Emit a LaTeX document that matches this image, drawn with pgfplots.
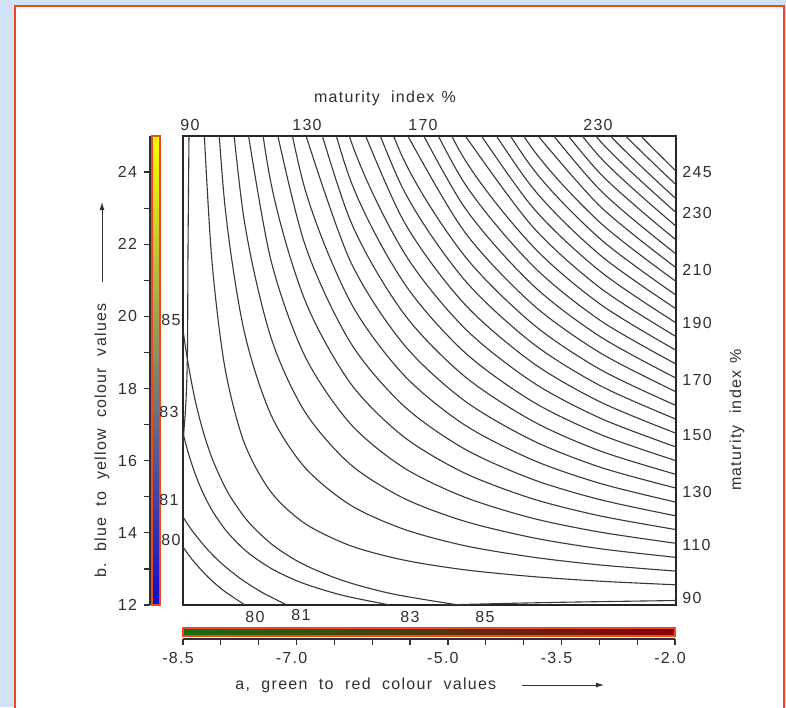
\documentclass[border=0pt]{standalone}
\usepackage{pgfplots}
\pgfplotsset{compat=1.18}
\usepackage{fontspec}
\setmainfont{Liberation Sans}
\newfontfamily\lab[LetterSpace=8]{Liberation Sans}
\usetikzlibrary{arrows.meta}
\definecolor{ink}{HTML}{303030}
\definecolor{frame}{HTML}{F2471E}
\definecolor{paperblue}{HTML}{CFE2F6}
\definecolor{cbgreen}{HTML}{166E0C}
\definecolor{cbred}{HTML}{8A0202}
\definecolor{cbblue}{HTML}{0C0CD2}
\pgfplotsset{ctr/.style={smooth, no marks, line width=0.55pt, draw=black!78}}

\begin{document}
\begin{tikzpicture}[x=0.5pt, y=-0.5pt,
  lab/.style={font=\lab\fontsize{8}{9}\selectfont, text=ink, inner sep=0pt}]
\useasboundingbox (0,0) rectangle (786,707);
\fill[paperblue] (0,0) rectangle (786,707);
\filldraw[fill=white, draw=frame, line width=1pt] (15,6) rectangle (784,720);

% colour bars
\shade[top color=yellow, bottom color=cbblue] (152,136) rectangle (160,605);
\draw[frame, line width=0.8pt] (152,136) rectangle (160,605);
\shade[left color=cbgreen, right color=cbred] (183,628) rectangle (675,636);
\draw[frame, line width=0.8pt] (183,628) rectangle (675,636);

% main field: maturity index contours, a on x, b on y
\begin{axis}[at={(91.5pt,-302.5pt)}, anchor=south west, scale only axis,
  width=246.5pt, height=234.5pt,
  xmin=-8.5, xmax=-2, ymin=12, ymax=25,
  xtick=\empty, ytick=\empty,
  axis line style={line width=1pt, black!85}]
% 90 (runs along the edges)
\addplot[ctr] coordinates {(-8.419,25.5) (-8.421,25.0) (-8.434,21.84) (-8.441,19.07) (-8.460,17.68) (-8.487,16.85) (-8.50,16.43)};
\addplot[ctr] coordinates {(-5.11,12.0) (-3.66,12.07) (-2.0,12.125) (-1.95,12.13)};
% 95 ... 245
\addplot[ctr] coordinates {(-8.23,25.46) (-8.12,21.57) (-7.95,18.61) (-7.70,16.54) (-7.35,15.16) (-6.90,14.27) (-6.30,13.65) (-5.60,13.25) (-4.80,12.98) (-3.90,12.79) (-3.00,12.66) (-2.00,12.56)};
\addplot[ctr] coordinates {(-8.12,28.11) (-7.95,23.13) (-7.70,19.65) (-7.35,17.32) (-6.90,15.83) (-6.30,14.78) (-5.60,14.11) (-4.80,13.65) (-3.90,13.33) (-3.00,13.11) (-2.00,12.94)};
\addplot[ctr] coordinates {(-7.95,27.64) (-7.70,22.76) (-7.35,19.48) (-6.90,17.38) (-6.30,15.91) (-5.60,14.97) (-4.80,14.33) (-3.90,13.87) (-3.00,13.56) (-2.00,13.32)};
\addplot[ctr] coordinates {(-7.70,25.86) (-7.35,21.64) (-6.90,18.93) (-6.30,17.04) (-5.60,15.82) (-4.80,15.00) (-3.90,14.41) (-3.00,14.02) (-2.00,13.71)};
\addplot[ctr] coordinates {(-7.70,28.97) (-7.35,23.80) (-6.90,20.49) (-6.30,18.17) (-5.60,16.68) (-4.80,15.67) (-3.90,14.95) (-3.00,14.47) (-2.00,14.09)};
\addplot[ctr] coordinates {(-7.35,25.97) (-6.90,22.04) (-6.30,19.30) (-5.60,17.54) (-4.80,16.34) (-3.90,15.49) (-3.00,14.92) (-2.00,14.47)};
\addplot[ctr] coordinates {(-7.35,28.13) (-6.90,23.59) (-6.30,20.43) (-5.60,18.40) (-4.80,17.01) (-3.90,16.03) (-3.00,15.37) (-2.00,14.85)};
\addplot[ctr] coordinates {(-6.90,25.15) (-6.30,21.56) (-5.60,19.25) (-4.80,17.68) (-3.90,16.57) (-3.00,15.82) (-2.00,15.24)};
\addplot[ctr] coordinates {(-6.90,26.70) (-6.30,22.69) (-5.60,20.11) (-4.80,18.36) (-3.90,17.11) (-3.00,16.27) (-2.00,15.62)};
\addplot[ctr] coordinates {(-6.90,28.25) (-6.30,23.82) (-5.60,20.97) (-4.80,19.03) (-3.90,17.65) (-3.00,16.73) (-2.00,16.00)};
\addplot[ctr] coordinates {(-6.90,29.81) (-6.30,24.95) (-5.60,21.82) (-4.80,19.70) (-3.90,18.19) (-3.00,17.18) (-2.00,16.38)};
\addplot[ctr] coordinates {(-6.30,26.08) (-5.60,22.68) (-4.80,20.37) (-3.90,18.73) (-3.00,17.63) (-2.00,16.76)};
\addplot[ctr] coordinates {(-6.30,27.21) (-5.60,23.54) (-4.80,21.04) (-3.90,19.27) (-3.00,18.08) (-2.00,17.15)};
\addplot[ctr] coordinates {(-6.30,28.34) (-5.60,24.39) (-4.80,21.71) (-3.90,19.81) (-3.00,18.53) (-2.00,17.53)};
\addplot[ctr] coordinates {(-5.60,25.25) (-4.80,22.38) (-3.90,20.35) (-3.00,18.99) (-2.00,17.91)};
\addplot[ctr] coordinates {(-5.60,26.11) (-4.80,23.06) (-3.90,20.89) (-3.00,19.44) (-2.00,18.29)};
\addplot[ctr] coordinates {(-5.60,26.97) (-4.80,23.73) (-3.90,21.43) (-3.00,19.89) (-2.00,18.68)};
\addplot[ctr] coordinates {(-5.60,27.82) (-4.80,24.40) (-3.90,21.97) (-3.00,20.34) (-2.00,19.06)};
\addplot[ctr] coordinates {(-4.80,25.07) (-3.90,22.51) (-3.00,20.79) (-2.00,19.44)};
\addplot[ctr] coordinates {(-4.80,25.74) (-3.90,23.05) (-3.00,21.25) (-2.00,19.82)};
\addplot[ctr] coordinates {(-4.80,26.41) (-3.90,23.59) (-3.00,21.70) (-2.00,20.21)};
\addplot[ctr] coordinates {(-4.80,27.09) (-3.90,24.13) (-3.00,22.15) (-2.00,20.59)};
\addplot[ctr] coordinates {(-4.80,27.76) (-3.90,24.67) (-3.00,22.60) (-2.00,20.97)};
\addplot[ctr] coordinates {(-3.90,25.21) (-3.00,23.05) (-2.00,21.35)};
\addplot[ctr] coordinates {(-3.90,25.76) (-3.00,23.50) (-2.00,21.73)};
\addplot[ctr] coordinates {(-3.90,26.30) (-3.00,23.96) (-2.00,22.12)};
\addplot[ctr] coordinates {(-3.90,26.84) (-3.00,24.41) (-2.00,22.50)};
\addplot[ctr] coordinates {(-3.90,27.38) (-3.00,24.86) (-2.00,22.88)};
\addplot[ctr] coordinates {(-3.90,27.92) (-3.00,25.31) (-2.00,23.26)};
\addplot[ctr] coordinates {(-3.90,28.46) (-3.00,25.76) (-2.00,23.65)};
\addplot[ctr] coordinates {(-3.90,29.00) (-3.00,26.22) (-2.00,24.03)};
% 85, 83, 81, 80 in the corner
\addplot[ctr] coordinates {(-8.5,19.622) (-8.434,18.705) (-8.342,17.698) (-8.236,16.823) (-8.104,15.999) (-7.907,15.115) (-7.643,14.317) (-7.313,13.657) (-6.918,13.134) (-6.391,12.676) (-5.731,12.305) (-4.808,11.981)};
\addplot[ctr] coordinates {(-8.5,16.767) (-8.434,16.243) (-8.342,15.647) (-8.236,15.107) (-8.104,14.580) (-7.907,13.998) (-7.643,13.451) (-7.313,12.984) (-6.918,12.604) (-6.391,12.266) (-5.771,12.0)};
\addplot[ctr] coordinates {(-8.5,14.439) (-8.368,14.029) (-8.170,13.524) (-7.973,13.117) (-7.722,12.701) (-7.445,12.335) (-7.129,12.0)};
\addplot[ctr] coordinates {(-8.5,13.608) (-8.368,13.231) (-8.170,12.776) (-7.973,12.413) (-7.683,12.0)};
\end{axis}

% b scale (left)
\begin{axis}[at={(75pt,-302.5pt)}, anchor=south west, scale only axis,
  width=1pt, height=234.5pt, xmin=0, xmax=1, ymin=12, ymax=25,
  axis x line=none, axis y line=left,
  axis line style={-, ink, line width=0.7pt},
  ytick={12,14,16,18,20,22,24}, yticklabels={12,14,16,18,20,22,24},
  minor ytick={13,15,17,19,21,23},
  tick align=outside, major tick length=3pt, minor tick length=3pt,
  tick style={ink, line width=0.6pt},
  yticklabel style={font=\lab\fontsize{8}{9}\selectfont, text=ink}]
\end{axis}

% a scale (bottom)
\begin{axis}[at={(91.5pt,-319.5pt)}, anchor=south west, scale only axis,
  width=246pt, height=1pt, xmin=-8.5, xmax=-2, ymin=0, ymax=1,
  axis y line=none, axis x line=bottom,
  axis line style={-, ink, line width=0.7pt},
  xtick={-8.5,-7,-5,-3.5,-2}, xticklabels={-8.5,-7.0,-5.0,-3.5,-2.0},
  minor xtick={-8,-7.5,-6.5,-6,-5.5,-4.5,-4,-3,-2.5},
  tick align=outside, major tick length=3pt, minor tick length=3pt,
  tick style={ink, line width=0.6pt},
  xticklabel style={font=\lab\fontsize{8}{9}\selectfont, text=ink, xshift=-2.5pt}]
\end{axis}

% labels
\node[lab] at (385,98) {maturity\hspace{0.7em}index\hspace{0.45em}\%};
\node[lab] at (190,125) {90};
\node[lab] at (307,125) {130};
\node[lab] at (423,125) {170};
\node[lab] at (598,125) {230};
\foreach \v/\y in {245/172, 230/213, 210/270, 190/323, 170/380, 150/435, 130/492, 110/545, 90/598}
  \node[lab, anchor=west] at (682,\y) {\v};
\node[lab, rotate=90] at (737,420) {maturity\hspace{0.7em}index\hspace{0.45em}\%};
\node[lab] at (255,617) {80};
\node[lab] at (301,615) {81};
\node[lab] at (410,617) {83};
\node[lab] at (485,617) {85};
\node[lab] at (171,320) {85};
\node[lab] at (169,412) {83};
\node[lab] at (169,500) {81};
\node[lab] at (171,540) {80};
\node[lab, rotate=90, anchor=west] at (102,578) {b.~~blue~~to~~yellow~~colour~~values};
\draw[ink, line width=0.5pt, -{Latex[length=4pt, width=2.5pt]}] (102,282) -- (102,202);
\node[lab, anchor=west] at (235,685) {a,~~green~~to~~red~~colour~~values};
\draw[ink, line width=0.5pt, -{Latex[length=4pt, width=2.5pt]}] (522,685) -- (604,685);
\end{tikzpicture}
\end{document}
